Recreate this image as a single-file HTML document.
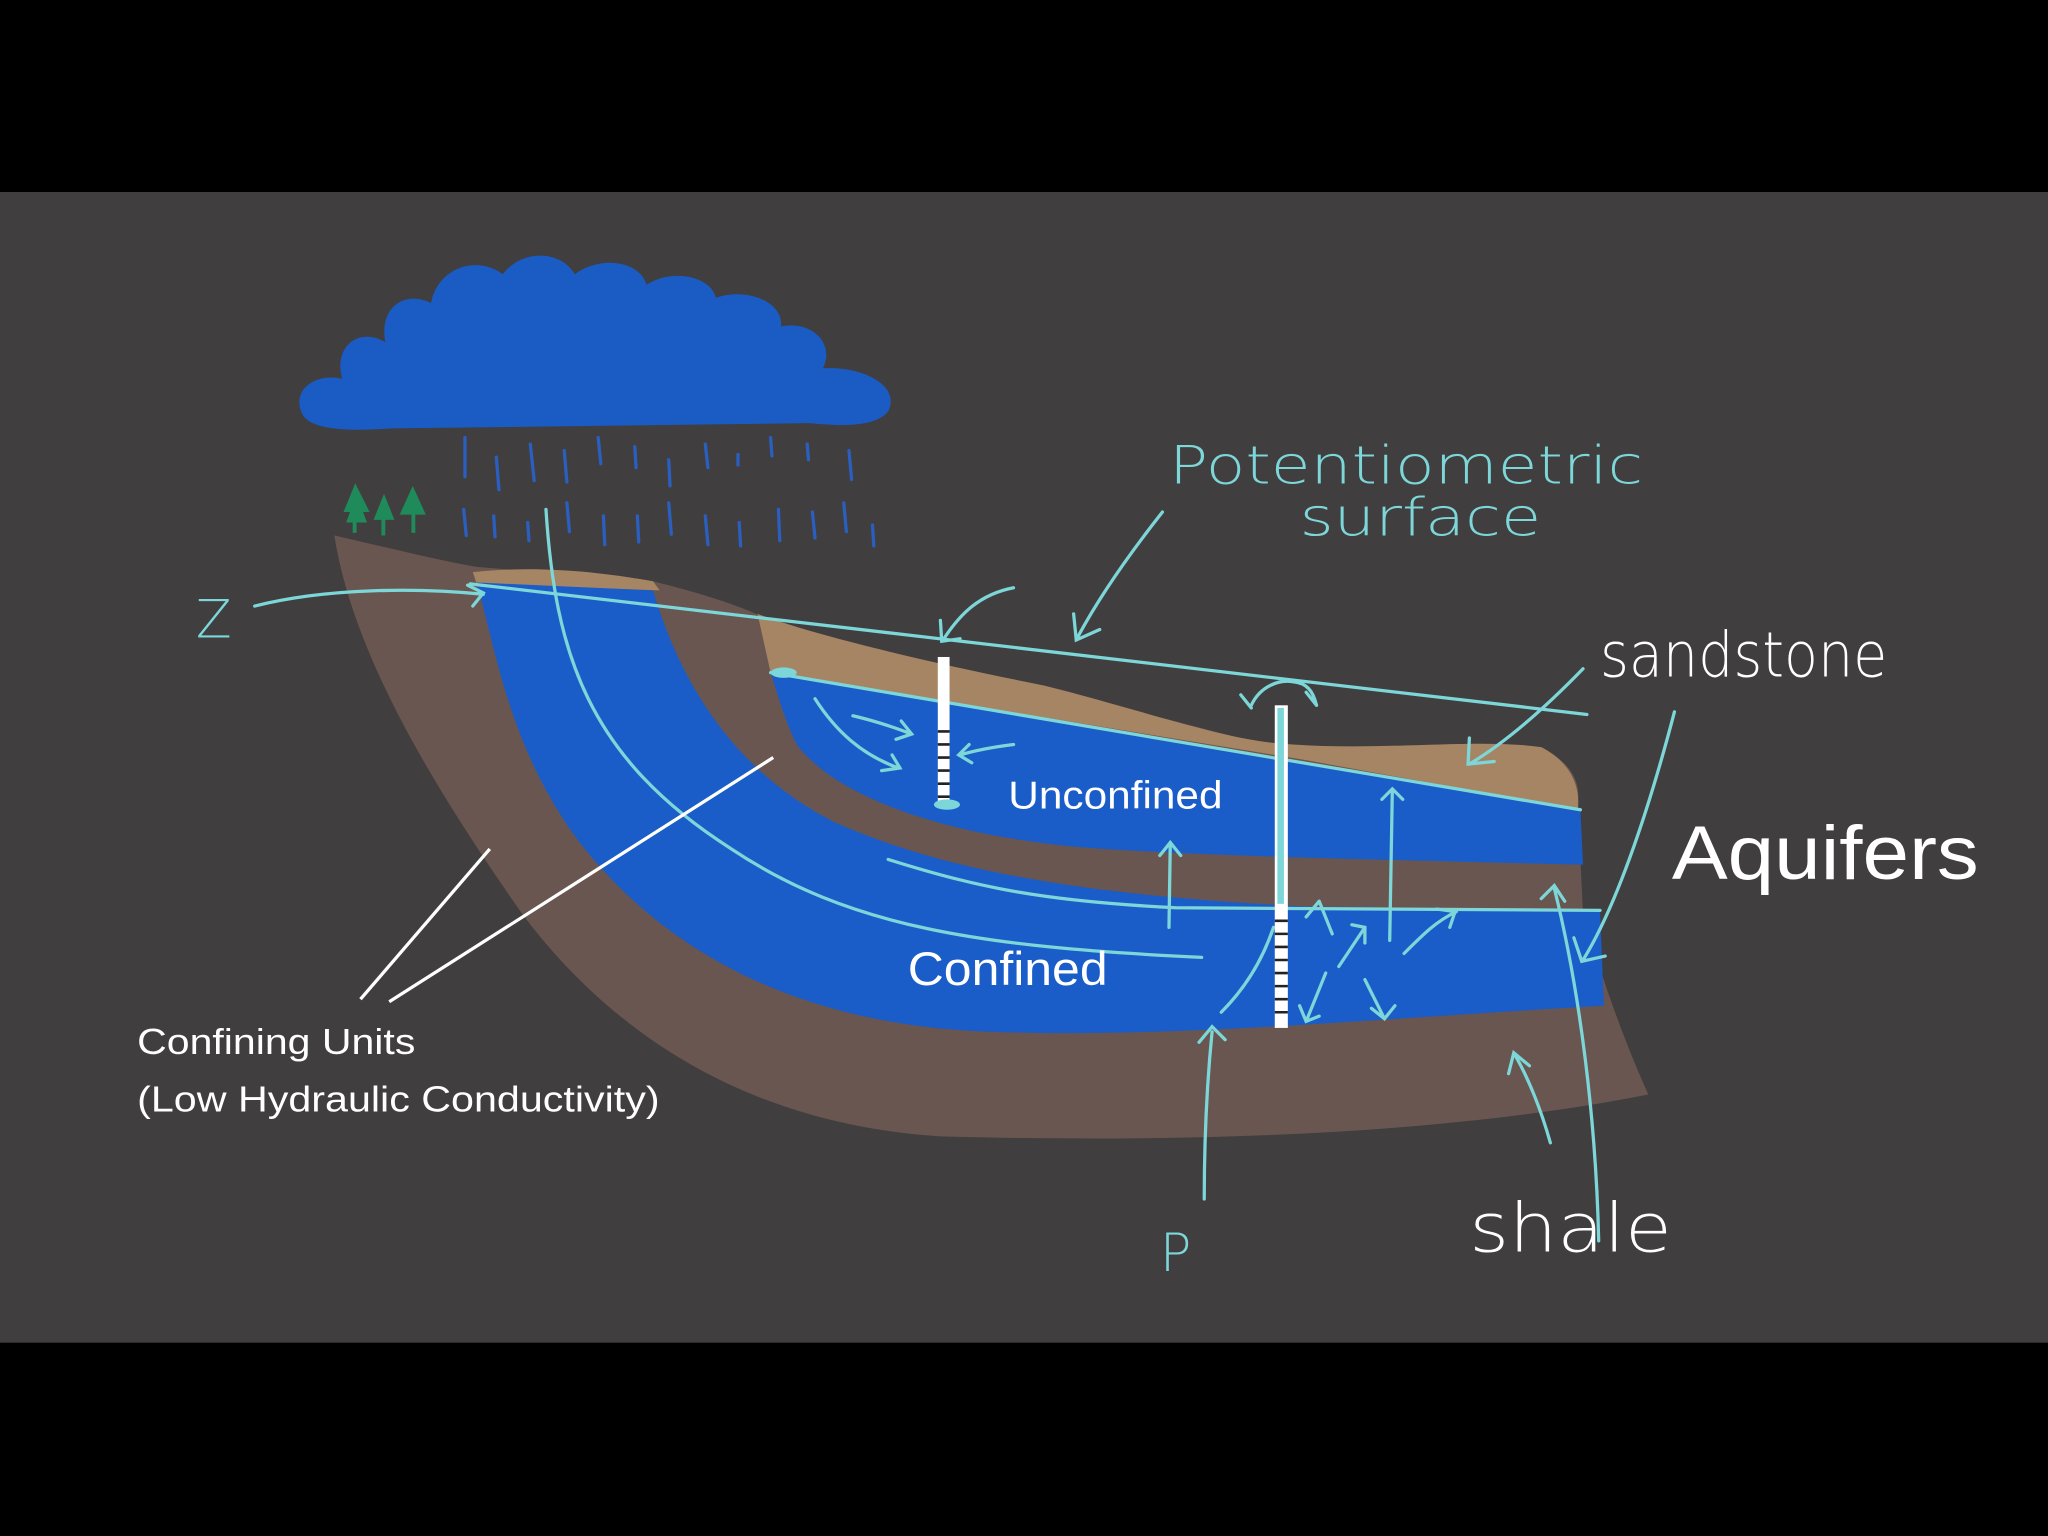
<!DOCTYPE html>
<html><head><meta charset="utf-8"><style>
html,body{margin:0;padding:0;background:#000;}
svg{display:block}
</style></head><body>
<svg width="2048" height="1536" viewBox="0 0 1568 1176" xmlns="http://www.w3.org/2000/svg">
<rect width="1568" height="1176" fill="#000"/>
<rect y="147" width="1568" height="881" fill="#403e3f"/>
<!-- cloud -->
<path d="M232,318 C222,300 240,285 262,290 C255,265 275,250 295,262 C290,235 310,222 330,232 C335,205 365,195 385,210 C400,190 430,192 440,210 C460,195 490,200 495,218 C515,205 545,212 548,228 C570,220 600,230 598,250 C620,245 640,262 630,282 C660,280 690,295 680,315 C670,328 640,326 620,324 L300,328 C270,330 240,330 232,318 Z" fill="#1a5cc4"/>
<!-- rain -->
<g stroke="#2a5fc0" stroke-width="2.5" stroke-linecap="round">
<path d="M356,335 l0,30 M380,350 l2,25 M406,340 l3,28 M432,345 l2,24 M458,335 l2,20 M486,342 l1,16 M512,352 l1,20 M540,340 l2,18 M565,348 l0,8 M590,335 l1,14 M618,340 l1,12 M650,345 l2,22 M355,390 l2,20 M378,395 l1,16 M404,400 l1,14 M434,385 l2,22 M462,395 l1,22 M488,395 l1,20 M512,385 l2,24 M540,395 l2,22 M566,400 l1,18 M596,390 l1,24 M622,392 l2,20 M646,385 l2,22 M668,402 l1,16"/>
</g>
<!-- trees -->
<g fill="#1f8a5a">
<path d="M272,370 l-9,22 h5 l-3,8 h16 l-3,-8 h5 z"/>
<path d="M294,378 l-8,20 h16 z"/>
<path d="M316,372 l-10,22 h20 z"/>
<rect x="270" y="398" width="3" height="10"/><rect x="292" y="396" width="3" height="14"/><rect x="315" y="392" width="3" height="16"/>
</g>
<!-- brown body -->
<path d="M256,410 C300,420 340,430 365,434 L500,445 C560,460 580,470 600,480 C700,505 800,525 960,568 C1050,578 1120,570 1180,572 C1205,585 1210,600 1208,615 L1212,700 C1230,760 1245,800 1262,838 C1100,870 900,875 720,870 C560,860 460,780 400,700 C330,600 270,500 256,410 Z" fill="#6a5650"/>
<!-- sandstone -->
<path d="M362,438 C420,432 470,440 500,445 L505,452 L365,447 Z" fill="#a68564"/>
<path d="M580,470 C620,485 700,505 800,525 C880,545 940,568 990,570 C1060,575 1130,565 1180,572 C1205,585 1210,605 1208,620 L1000,582 L590,515 Z" fill="#a68564"/>
<!-- confined aquifer -->
<path d="M365,446 L500,452 C520,520 560,590 640,630 C720,665 820,685 1000,694 L1225,697 L1228,770 C1050,780 900,795 760,790 C600,785 500,720 440,640 C390,570 380,500 365,446 Z" fill="#1a5cc8"/>
<!-- unconfined aquifer -->
<path d="M590,515 L1210,620 L1212,662 C1050,658 900,655 820,648 C720,638 640,610 610,570 C600,550 595,530 590,515 Z" fill="#1a5cc8"/>
<!-- cyan lines -->
<g stroke="#7dd6d8" stroke-width="2.5" fill="none" stroke-linecap="round">
<path d="M360,447 L1215,547"/>
<path d="M590,515 L1210,620"/>
<path d="M680,658 C750,680 800,690 900,695 L1225,697"/>
<path d="M418,390 C425,500 450,580 560,650 C650,710 750,725 920,733"/>
<path d="M195,464 C250,450 320,450 370,455 M358,448 l12,6 l-8,10"/>
<path d="M890,392 C860,430 840,460 825,488 M822,470 l2,20 l18,-8"/>
<path d="M776,450 C750,455 735,470 722,490 M720,475 l1,16 l14,-2"/>
<path d="M1212,512 C1180,545 1150,570 1125,585 M1125,565 l-1,20 l20,-2"/>
<path d="M1282,545 C1265,610 1240,690 1212,735 M1205,718 l6,18 l18,-4"/>
<path d="M1224,950 C1222,860 1210,760 1190,680 M1180,688 l10,-10 l8,12"/>
<path d="M1187,875 C1180,850 1170,825 1160,808 M1155,822 l4,-16 l12,10"/>
<path d="M922,918 C922,860 925,820 928,790 M918,798 l10,-12 l10,10"/>
<path d="M895,710 L896,645 M888,655 l8,-10 l8,10"/>
<path d="M1064,720 L1066,605 M1058,612 l8,-8 l8,8"/>
<path d="M1075,730 C1090,715 1100,705 1115,698 M1100,696 l14,2 l-4,12"/>
<path d="M1025,740 L1045,710 M1035,708 l10,2 l0,12"/>
<path d="M1045,750 L1060,780 M1050,772 l10,8 l8,-10"/>
<path d="M1015,745 L1000,782 M995,770 l5,12 l10,-4"/>
<path d="M1020,715 L1010,690 M1000,702 l10,-12"/>
<path d="M935,775 C950,760 965,740 975,710"/>
<path d="M624,535 C640,560 660,578 688,588 M675,590 l14,-2 l-6,-10"/>
<path d="M653,548 C670,552 685,557 698,562 M690,552 l8,10 l-12,4"/>
<path d="M776,570 C760,572 745,575 735,578 M742,570 l-8,8 l10,6"/>
<path d="M958,540 C965,525 980,520 990,522 C1000,523 1005,528 1008,540 M950,532 l8,10 M1000,530 l8,10"/>
</g>
<ellipse cx="600" cy="515" rx="10" ry="4" fill="#7dd6d8"/>
<!-- wells -->
<rect x="718" y="503" width="9" height="112" fill="#fff"/>
<g stroke="#222" stroke-width="2"><path d="M718,560 h9 M718,570 h9 M718,580 h9 M718,590 h9 M718,600 h9 M718,610 h9"/></g>
<ellipse cx="725" cy="616" rx="10" ry="4" fill="#7dd6d8"/>
<rect x="976" y="540" width="10" height="247" fill="#fff"/>
<rect x="978" y="542" width="5" height="150" fill="#7dd6d8"/>
<g stroke="#222" stroke-width="2"><path d="M976,705 h10 M976,715 h10 M976,725 h10 M976,735 h10 M976,745 h10 M976,755 h10 M976,765 h10 M976,775 h10"/></g>
<!-- text -->
<g font-family="'Liberation Sans',sans-serif" fill="#fff">
<text x="1280" y="673" font-size="58" textLength="235" lengthAdjust="spacingAndGlyphs">Aquifers</text>
<text x="772" y="619" font-size="30" textLength="164" lengthAdjust="spacingAndGlyphs">Unconfined</text>
<text x="695" y="754" font-size="36" textLength="153" lengthAdjust="spacingAndGlyphs">Confined</text>
<text x="105" y="807" font-size="28" textLength="213" lengthAdjust="spacingAndGlyphs">Confining Units</text>
<text x="105" y="851" font-size="28" textLength="400" lengthAdjust="spacingAndGlyphs">(Low Hydraulic Conductivity)</text>
</g>
<g stroke="#fff" stroke-width="2.5" fill="none"><path d="M276,765 L375,650 M298,767 L592,580"/></g>
<g font-family="'DejaVu Sans',sans-serif" fill="#7dd6d8" font-weight="200">
<text x="895" y="370" font-size="40" textLength="363" lengthAdjust="spacingAndGlyphs">Potentiometric</text>
<text x="995" y="410" font-size="40" textLength="185" lengthAdjust="spacingAndGlyphs">surface</text>
<text x="150" y="488" font-size="40">Z</text>
<text x="888" y="973" font-size="40">P</text>
</g>
<g font-family="'DejaVu Sans',sans-serif" fill="#fff" font-weight="200">
<text x="1225" y="518" font-size="48" textLength="220" lengthAdjust="spacingAndGlyphs">sandstone</text>
<text x="1125" y="958" font-size="52" textLength="155" lengthAdjust="spacingAndGlyphs">shale</text>
</g>
</svg>
</body></html>
